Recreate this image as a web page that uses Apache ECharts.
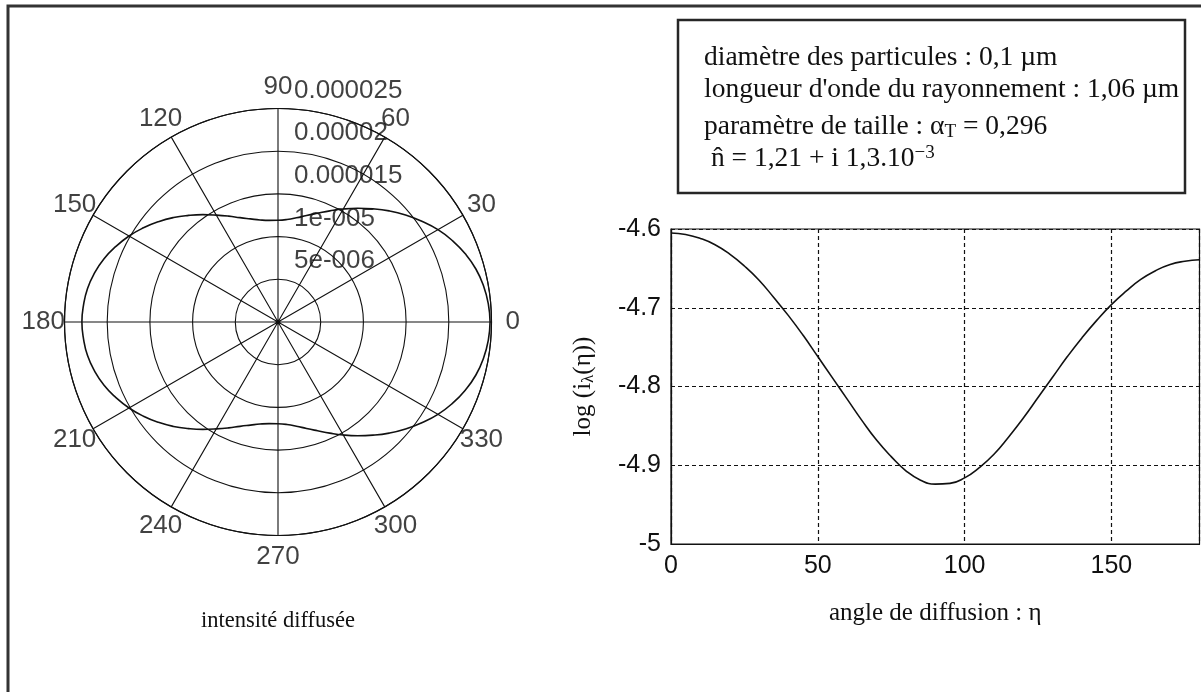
<!DOCTYPE html>
<html>
<head>
<meta charset="utf-8">
<script src="https://cdn.jsdelivr.net/npm/echarts@6/dist/echarts.min.js"></script>
<style>
  html, body { margin: 0; padding: 0; background: #fff; }
  #chart { width: 1201px; height: 692px; }
</style>
</head>
<body>
<div id="chart"></div>
<script>
// Scattering angle eta (degrees) and log10 of the scattered intensity i_lambda(eta)
const eta = [0, 5, 10, 15, 20, 25, 30, 35, 40, 45, 50, 55, 60, 65, 70, 75, 80, 85, 90,
             95, 100, 105, 110, 115, 120, 125, 130, 135, 140, 145, 150, 155, 160, 165, 170, 175, 180];
const logIntensity = [-4.605, -4.607, -4.612, -4.620, -4.632, -4.647, -4.665, -4.687, -4.710, -4.735,
                      -4.762, -4.789, -4.816, -4.843, -4.868, -4.889, -4.907, -4.919, -4.924,
                      -4.923, -4.916, -4.903, -4.886, -4.864, -4.840, -4.814, -4.788, -4.762, -4.738,
                      -4.716, -4.696, -4.679, -4.664, -4.653, -4.645, -4.641, -4.639];

// Polar grid: ring values and their printed labels, spoke angles
const ringValues = [5e-6, 1e-5, 1.5e-5, 2e-5, 2.5e-5];
const ringLabels = ['5e-006', '1e-005', '0.000015', '0.00002', '0.000025'];
const spokeAngles = [0, 30, 60, 90, 120, 150, 180, 210, 240, 270, 300, 330];
const ringMax = 2.5e-5;

// Parameters printed in the box
const infoLines = [
  'diamètre des particules : 0,1 µm',
  "longueur d'onde du rayonnement : 1,06 µm",
  'paramètre de taille : α{sub|T} = 0,296',
  ' n̂ = 1,21 + i 1,3.10{sup|−3}'
];

const INK = '#111';
const SANS = '"Liberation Sans", Arial, sans-serif';
const SERIF = '"Liberation Serif", "Times New Roman", serif';

// Intensity over the full turn: 0..180 then mirrored back through 180..360
const polarCurve = eta.map((e, i) => [Math.pow(10, logIntensity[i]), e]);
for (let i = eta.length - 2; i >= 0; i--) {
  polarCurve.push([Math.pow(10, logIntensity[i]), 360 - eta[i]]);
}

const chart = echarts.init(document.getElementById('chart'), null, { renderer: 'canvas' });

const option = {
  backgroundColor: '#ffffff',
  animation: false,
  polar: { center: [278, 322], radius: 213.5 },
  angleAxis: {
    type: 'value', min: 0, max: 360, interval: 30,
    startAngle: 0, clockwise: false,
    axisLine: { show: true, lineStyle: { color: INK, width: 1.2 } },
    axisTick: { show: false },
    axisLabel: { show: false },
    splitLine: { show: true, lineStyle: { color: INK, width: 1.1 } }
  },
  radiusAxis: {
    type: 'value', min: 0, max: ringMax, interval: 5e-6,
    axisLine: { show: false },
    axisTick: { show: false },
    axisLabel: { show: false },
    splitLine: { show: true, lineStyle: { color: INK, width: 1.1 } }
  },
  grid: {
    left: 671, top: 229, width: 528.5, height: 315,
    show: true, borderColor: INK, borderWidth: 1.2, backgroundColor: 'transparent'
  },
  xAxis: {
    type: 'value', min: 0, max: 180, interval: 50,
    name: 'angle de diffusion : η',
    nameLocation: 'middle', nameGap: 57,
    nameTextStyle: { fontFamily: SERIF, fontSize: 25, color: INK },
    axisLine: { show: true, lineStyle: { color: INK, width: 1.2 } },
    axisTick: { show: false },
    axisLabel: { fontFamily: SANS, fontSize: 25, color: INK, margin: 10, showMaxLabel: false },
    splitLine: { show: true, lineStyle: { color: INK, width: 1.2, type: [4, 3] } }
  },
  yAxis: {
    type: 'value', min: -5, max: -4.6, interval: 0.1,
    name: 'log (i{sub|λ}(η))',
    nameLocation: 'middle', nameGap: 74, nameRotate: 90,
    nameTextStyle: {
      fontFamily: SERIF, fontSize: 25, color: INK,
      rich: { sub: { fontFamily: SERIF, fontSize: 17, color: INK, padding: [10, 0, 0, 0] } }
    },
    axisLine: { show: true, lineStyle: { color: INK, width: 1.2 } },
    axisTick: { show: false },
    axisLabel: { fontFamily: SANS, fontSize: 25, color: INK, margin: 10 },
    splitLine: { show: true, lineStyle: { color: INK, width: 1.2, type: [4, 3] } }
  },
  series: [
    {
      name: 'intensité diffusée',
      type: 'line',
      coordinateSystem: 'polar',
      data: polarCurve,
      smooth: true,
      showSymbol: false,
      symbol: 'none',
      silent: true,
      lineStyle: { color: '#111', width: 1.6 }
    },
    {
      // angle labels just outside the outer ring
      type: 'scatter',
      coordinateSystem: 'polar',
      clip: false,
      silent: true,
      symbolSize: 1,
      itemStyle: { color: 'rgba(0,0,0,0)' },
      data: spokeAngles.map(a => [ringMax * 1.1, a]),
      label: {
        show: true, position: 'inside',
        fontFamily: SANS, fontSize: 26, color: INK,
        formatter: p => String(p.value[1])
      }
    },
    {
      // ring value labels above each ring, next to the 90° spoke
      type: 'scatter',
      coordinateSystem: 'polar',
      clip: false,
      silent: true,
      symbolSize: 1,
      itemStyle: { color: 'rgba(0,0,0,0)' },
      data: ringValues.map(r => [r, 90]),
      label: {
        show: true, position: 'inside', align: 'left', offset: [16, -18],
        fontFamily: SANS, fontSize: 26, color: INK,
        formatter: p => ringLabels[p.dataIndex]
      }
    },
    {
      name: 'log (iλ(η))',
      type: 'line',
      xAxisIndex: 0, yAxisIndex: 0,
      data: eta.map((e, i) => [e, logIntensity[i]]),
      smooth: true,
      showSymbol: false,
      symbol: 'none',
      silent: true,
      lineStyle: { color: '#111', width: 1.6 }
    }
  ],
  graphic: [
    // page frame (left and top edges)
    { type: 'polyline', shape: { points: [[8, 692], [8, 6], [1201, 6]] },
      style: { stroke: '#333', lineWidth: 3, fill: null }, silent: true },
    // parameter box
    { type: 'rect', shape: { x: 678, y: 20, width: 507, height: 173 },
      style: { stroke: '#262626', lineWidth: 2.5, fill: '#fff' }, silent: true },
    ...infoLines.map((t, i) => ({
      type: 'text',
      x: 704, y: [58, 90, 126.5, 159][i],
      silent: true,
      style: {
        text: t,
        fill: INK,
        font: '27.5px ' + SERIF,
        verticalAlign: 'middle',
        align: 'left',
        rich: {
          sub: { font: '19px ' + SERIF, fill: INK, padding: [12, 0, 0, 0] },
          sup: { font: '19px ' + SERIF, fill: INK, padding: [0, 0, 12, 0] }
        }
      }
    })),
    // caption under the polar plot
    { type: 'text', x: 278, y: 621, silent: true,
      style: { text: 'intensité diffusée', fill: INK, font: '22.5px ' + SERIF,
               align: 'center', verticalAlign: 'middle' } }
  ]
};

chart.setOption(option);
</script>
</body>
</html>
